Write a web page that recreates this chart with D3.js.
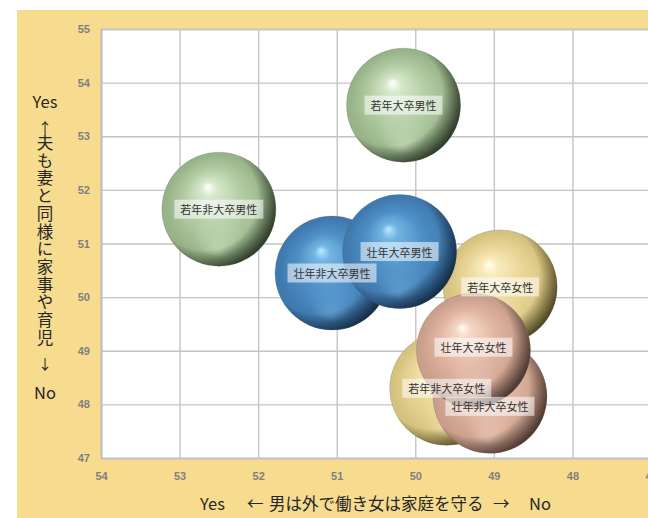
<!DOCTYPE html>
<html><head><meta charset="utf-8">
<script src="https://cdn.jsdelivr.net/npm/d3@7"></script>
<style>
html,body{margin:0;padding:0;background:#fff;}
svg{display:block;}
</style>
</head><body>
<svg id="chart" width="648" height="518"></svg>
<script>
// ---- data ----
const categories = ["若年大卒女性","若年非大卒女性","壮年非大卒女性","壮年大卒女性","若年非大卒男性","若年大卒男性","壮年非大卒男性","壮年大卒男性"];
const groups     = ["yellow","yellow","pink","pink","green","green","blue","blue"];
const xValues    = [48.92, 49.60, 49.05, 49.26, 52.50, 50.15, 51.06, 50.20];
const yValues    = [50.19, 48.30, 48.15, 49.01, 51.64, 53.58, 50.45, 50.85];
const sizes      = [1, 1, 1, 1, 1, 1, 1, 1];
const xTicks = [54,53,52,51,50,49,48,47];
const yTicks = [47,48,49,50,51,52,53,54,55];
const xTitleParts = ["Yes", "←", "男は外で働き女は家庭を守る", "→", "No"];
const yTitleTop = "Yes", yTitleBottom = "No";
const yTitleText = "夫も妻と同様に家事や育児";

// ---- layout ----
const svg = d3.select("#chart");
const L = 101, T = 29, B = 458, R = 651;
const x = d3.scaleLinear().domain([54,47]).range([L,R]);
const y = d3.scaleLinear().domain([47,55]).range([B,T]);
const r = d3.scaleSqrt().domain([0,1]).range([0,57]);

const palette = {
  green:  {hi:"#ffffff", l:"#d6e8cb", m:"#b2cca3", d:"#97b388", e:"#1f2a1b"},
  blue:   {hi:"#b8ebff", l:"#72b5e2", m:"#4d8fc6", d:"#3f79ad", e:"#0f2238"},
  yellow: {hi:"#fffef5", l:"#f8ebbb", m:"#ead697", d:"#d6c27e", e:"#3f3818"},
  pink:   {hi:"#fffcef", l:"#f5d6c6", m:"#e0b5a2", d:"#c99e8b", e:"#3b2922"}
};

// background panel
svg.append("rect").attr("x",17).attr("y",10).attr("width",648-17).attr("height",508).attr("fill","#f7dc8f");
svg.append("rect").attr("x",L).attr("y",T).attr("width",R-L).attr("height",B-T).attr("fill","#ffffff");

// gradients
const defs = svg.append("defs");
Object.entries(palette).forEach(([k,c])=>{
  const g = defs.append("radialGradient").attr("id","g-"+k)
    .attr("cx","50%").attr("cy","50%").attr("r","50%").attr("fx","40%").attr("fy","30%");
  [[0,c.hi],[0.14,c.l],[0.5,c.m],[0.92,c.d],[1,c.d]].forEach(([o,col])=>
    g.append("stop").attr("offset",o).attr("stop-color",col));
  // darker rim toward the lower right
  const s = defs.append("radialGradient").attr("id","s-"+k)
    .attr("cx","38%").attr("cy","40%").attr("r","64%");
  s.append("stop").attr("offset",0.72).attr("stop-color",c.e).attr("stop-opacity",0);
  s.append("stop").attr("offset",1).attr("stop-color",c.e).attr("stop-opacity",0.85);
  // soft bottom reflection
  const b = defs.append("radialGradient").attr("id","b-"+k)
    .attr("cx","50%").attr("cy","50%").attr("r","50%").attr("fx","50%").attr("fy","88%");
  b.append("stop").attr("offset",0).attr("stop-color",c.l).attr("stop-opacity",0.5);
  b.append("stop").attr("offset",0.45).attr("stop-color",c.l).attr("stop-opacity",0);
});

// grid / axes
const gx = svg.append("g").attr("transform",`translate(0,${B})`)
  .call(d3.axisBottom(x).tickValues(xTicks).tickSize(-(B-T)).tickPadding(14).tickFormat(d3.format("d")));
const gy = svg.append("g").attr("transform",`translate(${L},0)`)
  .call(d3.axisLeft(y).tickValues(yTicks).tickSize(-(R-L)).tickPadding(11).tickFormat(d3.format("d")));
[gx,gy].forEach(g=>{
  g.select(".domain").attr("stroke","#bdbdbd").attr("stroke-width",1.5);
  g.selectAll(".tick line").attr("stroke","#c4c4c4").attr("stroke-width",1.4);
  g.selectAll(".tick text").attr("fill","#7f7f7f").attr("font-size",11).attr("font-weight","bold")
    .attr("font-family","Liberation Sans, Arial, sans-serif");
});

// bubbles
const data = categories.map((c,i)=>({name:c,group:groups[i],xv:xValues[i],yv:yValues[i],s:sizes[i]}));
const bub = svg.append("g");
data.forEach(d=>{
  const cx = x(d.xv), cy = y(d.yv), rr = r(d.s);
  bub.append("circle").attr("cx",cx).attr("cy",cy).attr("r",rr)
    .attr("fill",`url(#g-${d.group})`);
  bub.append("circle").attr("cx",cx).attr("cy",cy).attr("r",rr).attr("fill",`url(#b-${d.group})`);
  bub.append("circle").attr("cx",cx).attr("cy",cy).attr("r",rr).attr("fill",`url(#s-${d.group})`)
    .attr("stroke","rgba(90,90,90,0.3)").attr("stroke-width",0.8);
});

// labels
const labelDy = {"壮年非大卒女性":10, "壮年大卒女性":-3};
const lab = svg.append("g").attr("font-family","Noto Sans CJK JP, sans-serif").attr("font-size",11);
data.forEach(d=>{
  const cx = x(d.xv), cy = y(d.yv) + (labelDy[d.name]||0);
  const t = lab.append("text").attr("x",cx).attr("y",cy).attr("text-anchor","middle")
    .attr("dominant-baseline","central").attr("fill","#333").text(d.name);
  const w = t.node().getComputedTextLength();
  lab.insert("rect","text").attr("x",cx-w/2-6).attr("y",cy-9.5).attr("width",w+12).attr("height",19)
    .attr("fill","rgba(255,255,255,0.55)");
});
lab.selectAll("rect").lower();

// x title
const xt = svg.append("text").attr("y",503).attr("dominant-baseline","central")
  .attr("font-family","Noto Sans CJK JP, sans-serif").attr("font-size",16.5).attr("fill","#262626");
const xPos = [200, 247, 269, 493, 529];
xTitleParts.forEach((p,i)=> xt.append("tspan").attr("x",xPos[i]).text(p));

// y title
const yt = svg.append("g").attr("font-family","Noto Sans CJK JP, sans-serif")
  .attr("fill","#262626").attr("text-anchor","middle");
yt.append("text").attr("x",45).attr("y",101).attr("dominant-baseline","central").attr("font-size",16.5).text(yTitleTop);
yt.append("text").attr("x",45).attr("y",127).attr("dominant-baseline","central").attr("font-size",14).text("↑");
yt.append("text").attr("x",45).attr("y",134.5)
  .attr("font-size",16.5).style("writing-mode","vertical-rl").style("text-orientation","upright")
  .attr("text-anchor","start").attr("letter-spacing",1.2).text(yTitleText);
yt.append("text").attr("x",45).attr("y",363).attr("dominant-baseline","central").attr("font-size",14).text("↓");
yt.append("text").attr("x",45).attr("y",392).attr("dominant-baseline","central").attr("font-size",16.5).text(yTitleBottom);
</script>
</body></html>
